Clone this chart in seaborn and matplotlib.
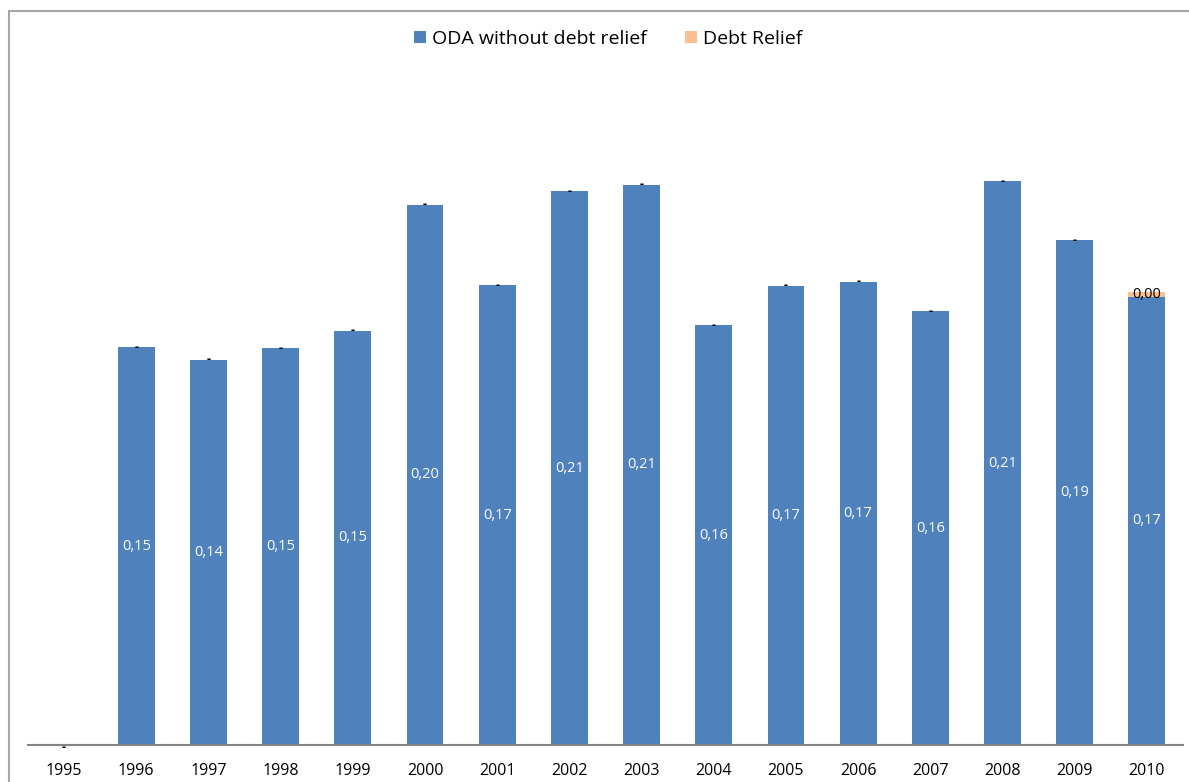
import matplotlib
matplotlib.use("Agg")
import matplotlib.pyplot as plt
import seaborn as sns
import pandas as pd
import numpy as np
from matplotlib.lines import Line2D
from matplotlib.patches import Patch

years = ["1995", "1996", "1997", "1998", "1999", "2000", "2001", "2002",
         "2003", "2004", "2005", "2006", "2007", "2008", "2009", "2010"]
oda_without_debt = [0.0, 0.1485, 0.1437, 0.1481, 0.1545, 0.2015, 0.1716, 0.2067,
                    0.2090, 0.1567, 0.1713, 0.1728, 0.1619, 0.2104, 0.1884, 0.1672]
debt_relief = [0.0, 0.0, 0.0, 0.0, 0.0, 0.0, 0.0, 0.0,
               0.0, 0.0, 0.0, 0.0, 0.0, 0.0, 0.0, 0.0019]

BLUE = "#4F81BD"
ORANGE = "#FAC090"

sns.set_style("white")
plt.rcParams["font.family"] = ["Open Sans", "DejaVu Sans"]
plt.rcParams["text.color"] = "black"

df = pd.DataFrame({"year": years, "oda": oda_without_debt, "debt": debt_relief})
df["total"] = df["oda"] + df["debt"]

fig = plt.figure(figsize=(11.89, 7.82), dpi=100)
W, H = 1189, 782
ax = fig.add_axes([28 / W, (H - 745) / H, (1183 - 28) / W, (745 - 75) / H])

sns.barplot(data=df, x="year", y="total", color=ORANGE, saturation=1, width=0.51,
            linewidth=0, ax=ax)
sns.barplot(data=df, x="year", y="oda", color=BLUE, saturation=1, width=0.51,
            linewidth=0, ax=ax)

ax.set_ylim(0, 0.25)
ax.set_xlim(-0.5, len(years) - 0.5)
ax.set_xlabel("")
ax.set_ylabel("")
ax.set_yticks([])
for s in ["top", "right", "left"]:
    ax.spines[s].set_visible(False)
ax.spines["bottom"].set_color("#868686")
ax.spines["bottom"].set_linewidth(1.5)
ax.tick_params(axis="x", length=0, pad=13, labelsize=11.5, colors="black")


def fmt(v):
    if abs(v) < 1e-9:
        return "-"
    return f"{v:.2f}".replace(".", ",")


for i, (o, d) in enumerate(zip(oda_without_debt, debt_relief)):
    if o > 0:
        ax.text(i, o / 2, fmt(o), ha="center", va="center", color="white", fontsize=10.5)
    else:
        ax.text(i, -0.0008, "-", ha="center", va="center", color="black",
                fontsize=9, fontweight="bold")
    if d > 0:
        ax.text(i, o + d / 2, fmt(d), ha="center", va="center", color="black", fontsize=10.5)
    elif o > 0:
        ax.text(i, o, "-", ha="center", va="center", color="black",
                fontsize=9, fontweight="bold")

handles = [Patch(facecolor=BLUE, edgecolor="none"), Patch(facecolor=ORANGE, edgecolor="none")]
fig.legend(handles, ["ODA without debt relief", "Debt Relief"], loc="center",
           bbox_to_anchor=(608 / W, (H - 39) / H), ncol=2, frameon=False,
           fontsize=14, handlelength=0.6, handleheight=0.6, handletextpad=0.3,
           columnspacing=2.0, labelcolor="black")

fig.add_artist(Line2D([9 / W, 9 / W], [0, (H - 11) / H], color="#A6A6A6", lw=1.5,
                      transform=fig.transFigure))
fig.add_artist(Line2D([9 / W, 1], [(H - 11) / H, (H - 11) / H], color="#A6A6A6", lw=1.5,
                      transform=fig.transFigure))

fig.savefig("out.png", dpi=100, facecolor="white")
